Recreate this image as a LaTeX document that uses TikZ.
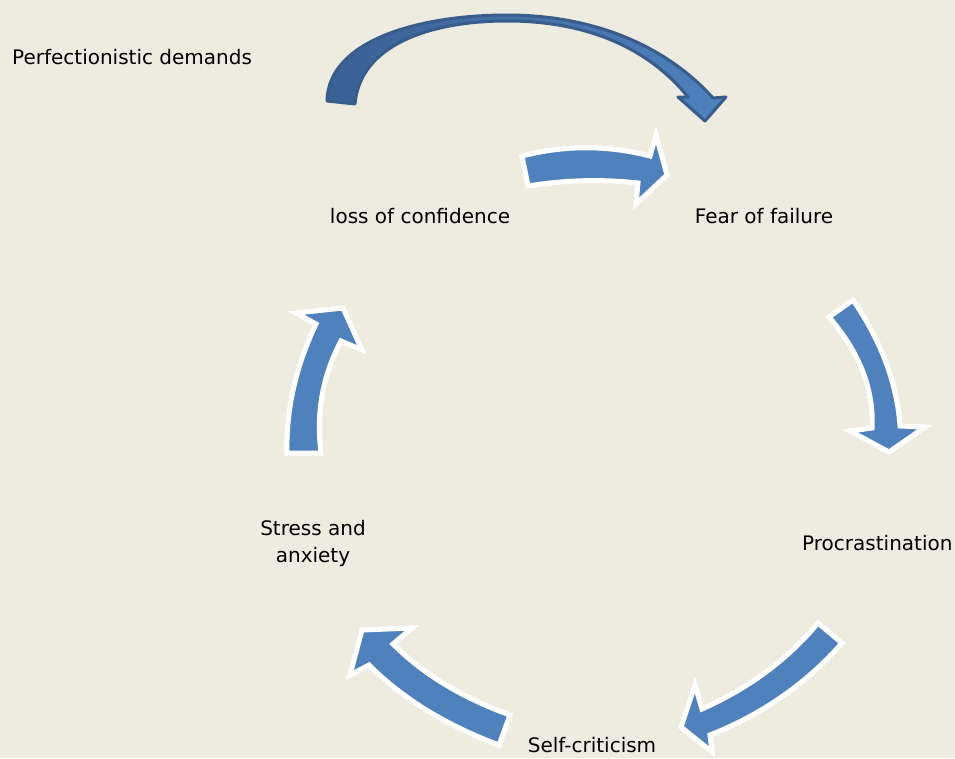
\documentclass[tikz,border=0pt]{standalone}
\usepackage{fontspec}
\setmainfont{DejaVu Sans}
\usepackage{tikz}
\usetikzlibrary{calc}
\definecolor{paper}{RGB}{238,236,225}
\definecolor{arrowblue}{RGB}{79,129,189}
\definecolor{darkblue}{RGB}{56,93,138}
\definecolor{deepblue}{RGB}{58,96,148}
\tikzset{
  every node/.style={
    inner sep=0pt,
    font=\fontsize{20}{27}\selectfont,
  },
  stage/.style={
    align=center,
    text=black,
  },
  blockarrow/.style={
    fill=arrowblue,
    draw=white,
    line width=5pt,
    line join=miter,
  },
  bigarrow/.style={
    left color=deepblue,
    right color=arrowblue,
    draw=darkblue,
    line width=3pt,
    line join=round,
  },
}

\begin{document}
\begin{tikzpicture}[x=1pt,y=-1pt]
    \fill[paper] (0,0) rectangle (955,758);
    \useasboundingbox (0,0) rectangle (955,758);

    % stages of the cycle
    \node[stage,anchor=west] (demands) at (12,57) {Perfectionistic demands};
    \node[stage] (loss) at (420,216) {loss of confidence};
    \node[stage] (fear) at (764,216) {Fear of failure};
    \node[stage,anchor=west] (procr) at (802,543) {Procrastination};
    \node[stage] (critic) at (592,745) {Self-criticism};
    \node[stage] (stress) at (313,543) {Stress and\\anxiety};

    % demands -> fear
    \draw[bigarrow] (327,101) .. controls (328,40) and (420,15) .. (507,15)
      .. controls (600,15) and (670,50) .. (713,98)
      -- (726,97) -- (705,121) -- (678,97) -- (688,97)
      .. controls (650,50) and (590,21) .. (507,21)
      .. controls (430,21) and (360,45) .. (355,104) -- cycle;

    % loss -> fear
    \draw[blockarrow] (522,156) .. controls (565,145) and (607,145) .. (650,156)
      -- (656,135) -- (667,175) -- (636,204) -- (638,183)
      .. controls (601,179) and (565,180) .. (528,186) -- cycle;

    % fear -> procrastination
    \draw[blockarrow] (853,300) .. controls (881,341) and (897,383) .. (900,426)
      -- (925,427) -- (889,452) -- (850,431) -- (872,428)
      .. controls (874,390) and (860,353) .. (829,317) -- cycle;

    % procrastination -> self-criticism
    \draw[blockarrow] (842,643) .. controls (807,683) and (763,714) .. (710,735)
      -- (712,752) -- (681,727) -- (695,685) -- (702,709)
      .. controls (749,688) and (787,660) .. (818,623) -- cycle;

    % self-criticism -> stress
    \draw[blockarrow] (499,745) .. controls (448,726) and (404,700) .. (369,665)
      -- (350,675) -- (362,630) -- (412,628) -- (393,644)
      .. controls (424,675) and (463,698) .. (510,715) -- cycle;

    % stress -> loss
    \draw[blockarrow] (287,453) .. controls (286,409) and (296,366) .. (316,324)
      -- (296,313) -- (343,308) -- (362,350) -- (341,341)
      .. controls (322,377) and (316,414) .. (321,453) -- cycle;
\end{tikzpicture}
\end{document}
